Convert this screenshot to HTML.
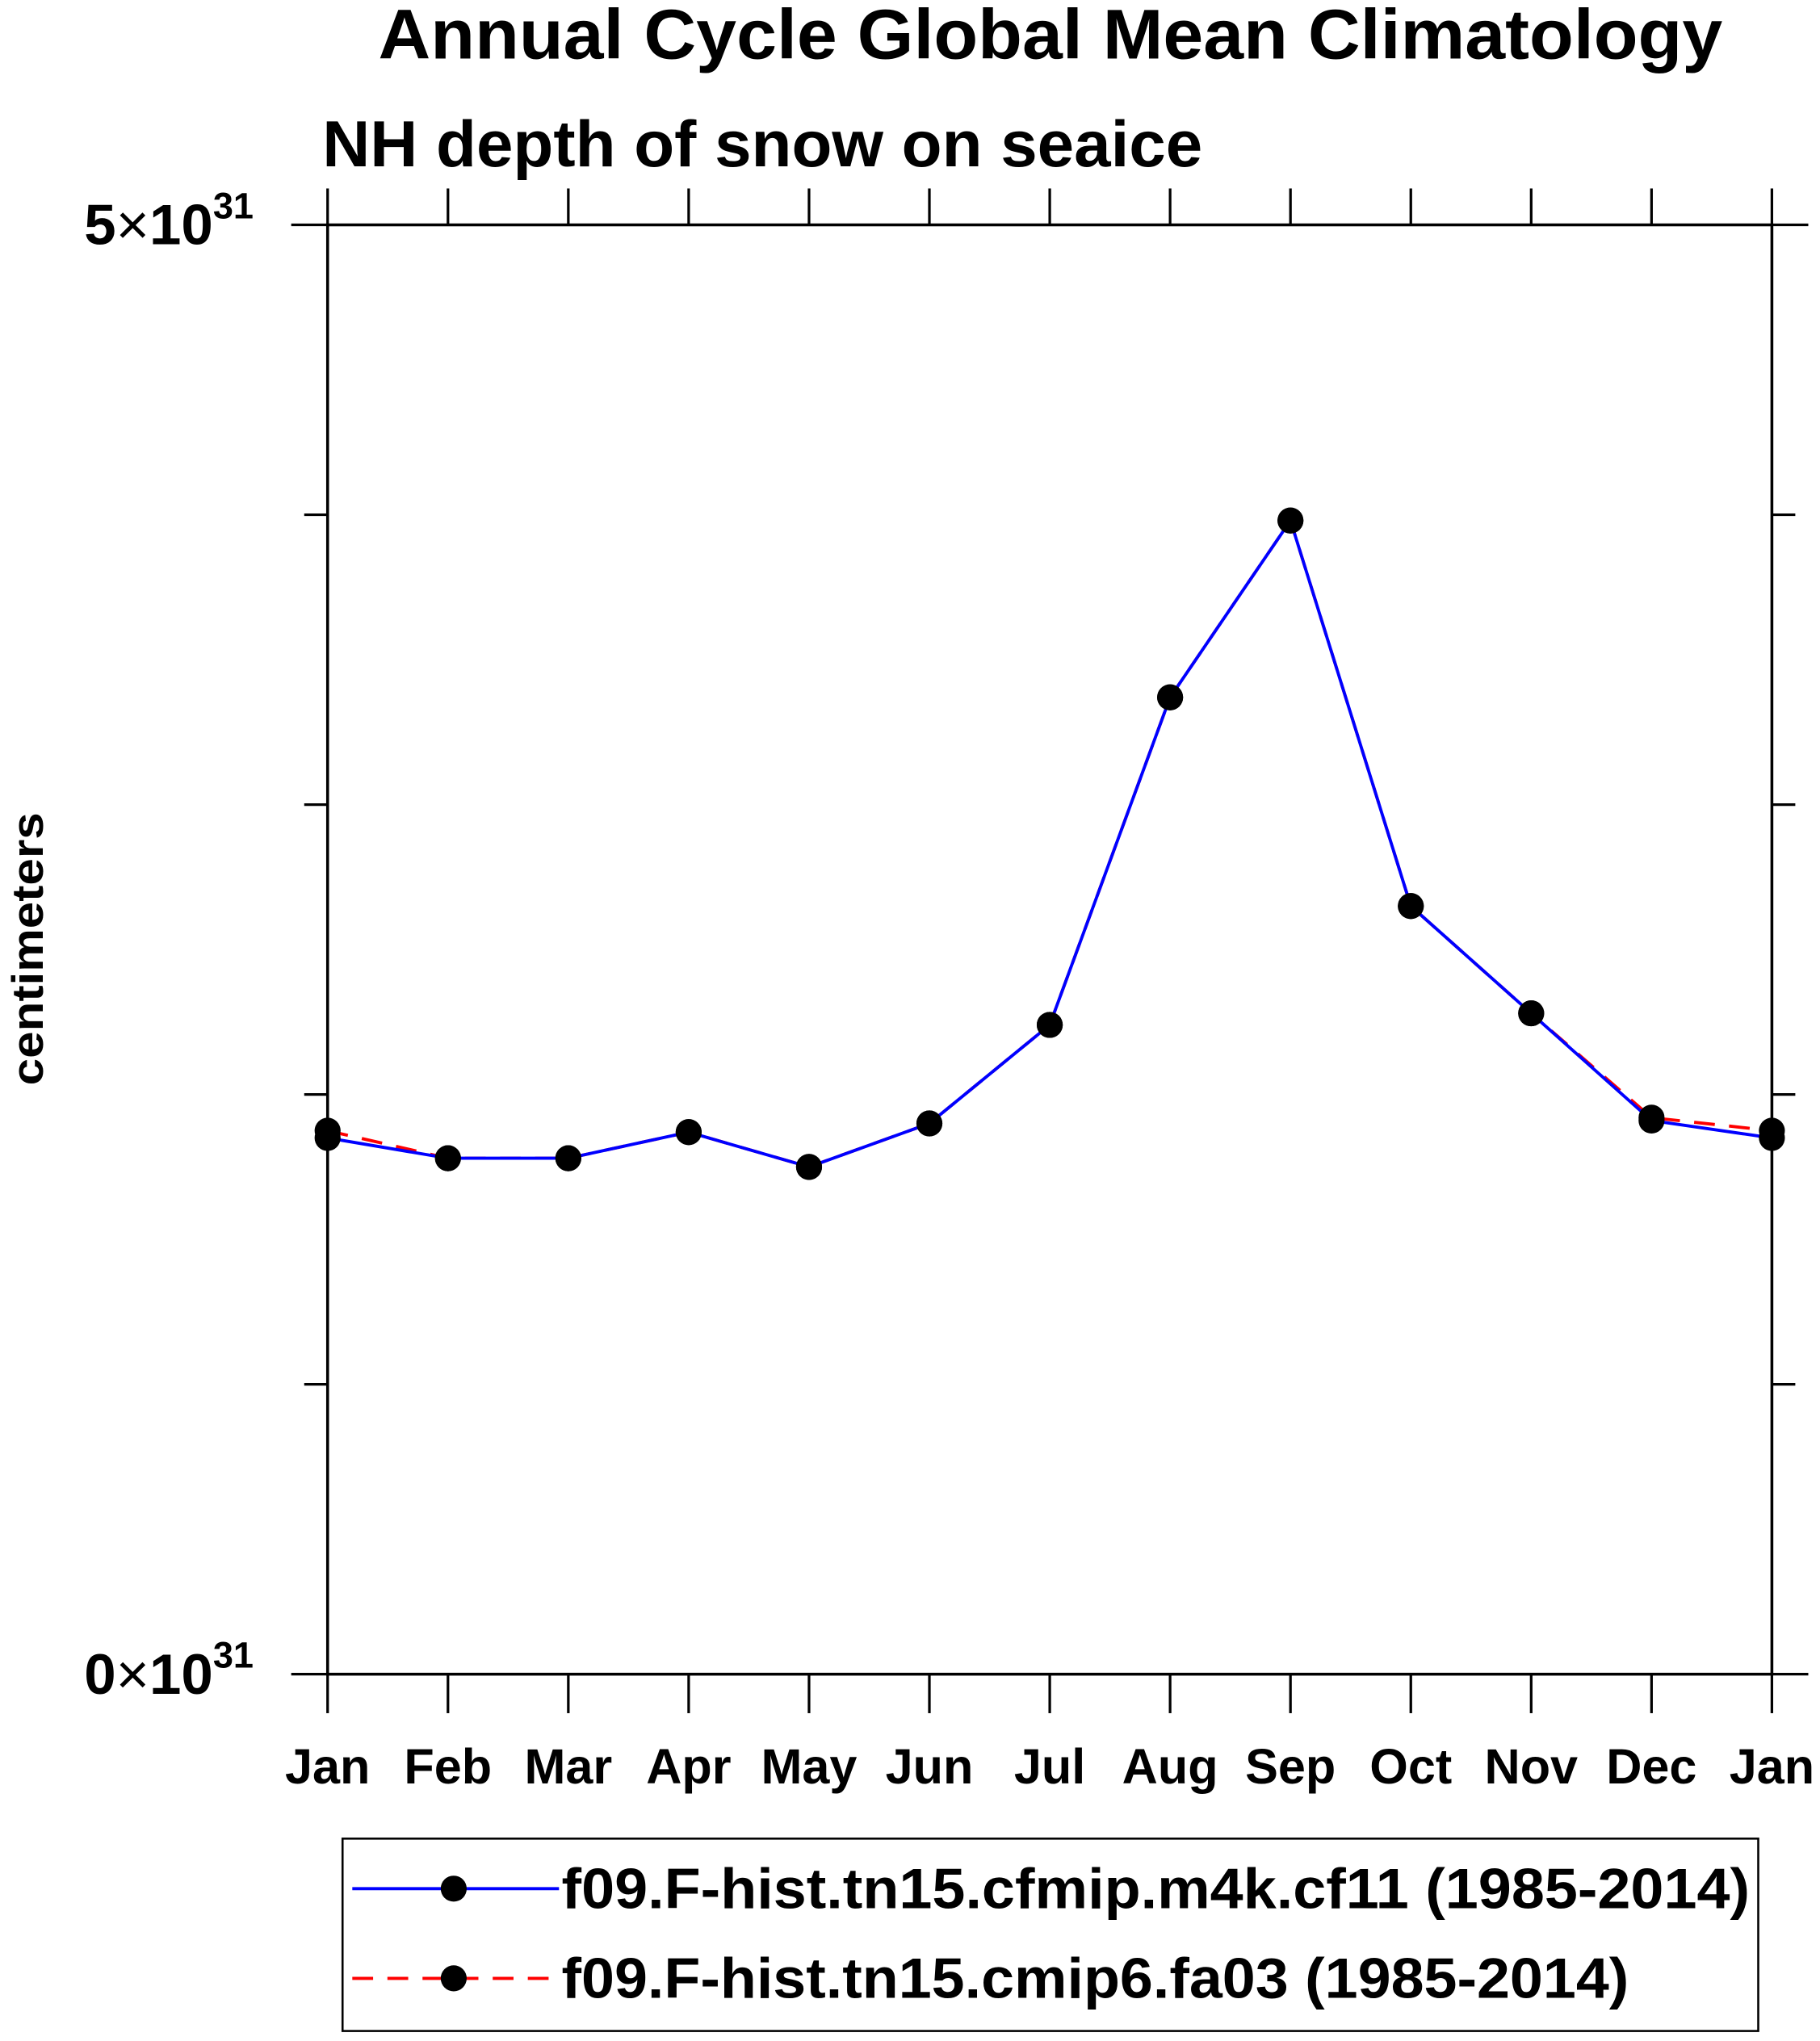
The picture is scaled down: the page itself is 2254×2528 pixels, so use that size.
<!DOCTYPE html>
<html><head><meta charset="utf-8"><style>
html,body{margin:0;padding:0;background:#fff;}
svg{display:block;font-family:"Liberation Sans",sans-serif;font-weight:bold;}
</style></head><body>
<svg width="2254" height="2528" viewBox="0 0 1400 1570.2" xmlns="http://www.w3.org/2000/svg">
<text x="291" y="45" font-size="54" textLength="1034" lengthAdjust="spacingAndGlyphs">Annual Cycle Global Mean Climatology</text>
<text x="248" y="128" font-size="50" textLength="677" lengthAdjust="spacingAndGlyphs">NH depth of snow on seaice</text>
<text transform="translate(33,730) rotate(-90)" font-size="34" text-anchor="middle" textLength="210" lengthAdjust="spacingAndGlyphs">centimeters</text>
<g id="axes"></g>
<g id="series"></g>
<g>
<rect x="263.5" y="1414.5" width="1089" height="148" fill="none" stroke="#000" stroke-width="1.6"/>
<line x1="271" y1="1453" x2="430" y2="1453" stroke="#0000ff" stroke-width="2.4"/>
<circle cx="349" cy="1453" r="10" fill="#000"/>
<text x="432" y="1468" font-size="44" textLength="914" lengthAdjust="spacingAndGlyphs">f09.F-hist.tn15.cfmip.m4k.cf11 (1985-2014)</text>
<line x1="271" y1="1522" x2="430" y2="1522" stroke="#ff0000" stroke-width="2.4" stroke-dasharray="16,11"/>
<circle cx="349" cy="1522" r="10" fill="#000"/>
<text x="432" y="1537" font-size="44" textLength="821" lengthAdjust="spacingAndGlyphs">f09.F-hist.tn15.cmip6.fa03 (1985-2014)</text>
</g>
</svg>
<script>
const months = ["Jan","Feb","Mar","Apr","May","Jun","Jul","Aug","Sep","Oct","Nov","Dec","Jan"];
const seriesM4k = [1.85,1.78,1.78,1.87,1.75,1.90,2.24,3.37,3.98,2.65,2.28,1.91,1.85];
const seriesFa03 = [1.875,1.78,1.78,1.87,1.75,1.90,2.24,3.37,3.98,2.65,2.28,1.92,1.875];
const yTicks = [0,1,2,3,4,5];
const yTickLabels = {0:"0",5:"5"};
const NS="http://www.w3.org/2000/svg";
const L=252,R=1363,T=173,B=1288,YMAX=5;
function xs(i){return L+(R-L)*i/(months.length-1);}
function ys(v){return B-(B-T)*v/YMAX;}
function mk(tag,attrs,parent){const e=document.createElementNS(NS,tag);for(const k in attrs)e.setAttribute(k,attrs[k]);parent.appendChild(e);return e;}
const ax=document.getElementById('axes');
let f=mk('rect',{x:L,y:T,width:R-L,height:B-T,fill:'none',stroke:'#000','stroke-width':2.2},ax);


months.forEach((m,i)=>{
  const x=xs(i);
  mk('line',{x1:x,y1:B,x2:x,y2:B+30,stroke:'#000','stroke-width':2},ax);
  mk('line',{x1:x,y1:T,x2:x,y2:T-28,stroke:'#000','stroke-width':2},ax);
  const t=mk('text',{x:x,y:1372,'font-size':38,'text-anchor':'middle'},ax);
  t.textContent=m;
  
  
});
yTicks.forEach(v=>{
  const y=ys(v);
  const major=(v in yTickLabels);
  mk('line',{x1:L,y1:y,x2:major?L-28:L-18,y2:y,stroke:'#000','stroke-width':2},ax);
  mk('line',{x1:R,y1:y,x2:major?R+28:R+18,y2:y,stroke:'#000','stroke-width':2},ax);
  if(major){
    const t=mk('text',{x:195,y:y+15,'font-size':44,'text-anchor':'end'},ax);
    
    
    const a=mk('tspan',{},t);a.textContent=yTickLabels[v];
    const b=mk('tspan',{'font-weight':'normal'},t);b.textContent="\u00d7";
    const c=mk('tspan',{},t);c.textContent="10";
    const d=mk('tspan',{dy:-20,'font-size':28},t);d.textContent="31";
  }
});
const sg=document.getElementById('series');
function drawSeries(vals,color,dash,name){
  const pts=vals.map((v,i)=>xs(i)+','+ys(v)).join(' ');
  const pl=mk('polyline',{points:pts,fill:'none',stroke:color,'stroke-width':2.4},sg);
  if(dash)pl.setAttribute('stroke-dasharray',dash);
  
  
  return pl;
}
drawSeries(seriesFa03,'#ff0000','16,11','series-fa03');
drawSeries(seriesM4k,'#0000ff',null,'series-m4k');
[seriesFa03,seriesM4k].forEach((vals,s)=>{
  vals.forEach((v,i)=>{
    const c=mk('circle',{cx:xs(i),cy:ys(v),r:10,fill:'#000'},sg);
    
    
  });
});
</script>
</body></html>
